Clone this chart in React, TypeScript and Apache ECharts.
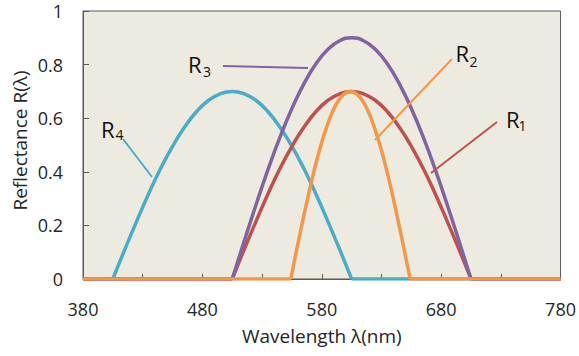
import React, { useEffect, useRef } from 'react';
import * as echarts from 'echarts';

const X_MIN = 380;
const X_MAX = 780;
const X_TICK_STEP = 50;
const X_LABEL_STEP = 100;
const Y_MIN = 0;
const Y_MAX = 1;
const Y_STEP = 0.2;

const xAxisTitle = 'Wavelength λ(nm)';
const yAxisTitle = 'Reflectance R(λ)';

// R4 (cyan)
const wavelengthsR4 = [405, 415, 425, 435, 445, 455, 465, 475, 485, 495, 505, 515, 525, 535, 545, 555, 565, 575, 585, 595, 605];
const reflectanceR4 = [0, 0.11, 0.216, 0.318, 0.412, 0.495, 0.566, 0.624, 0.666, 0.691, 0.7, 0.691, 0.666, 0.624, 0.566, 0.495, 0.412, 0.318, 0.216, 0.11, 0];

// R1 (red)
const wavelengthsR1 = [505, 515, 525, 535, 545, 555, 565, 575, 585, 595, 605, 615, 625, 635, 645, 655, 665, 675, 685, 695, 705];
const reflectanceR1 = [0, 0.11, 0.216, 0.318, 0.412, 0.495, 0.566, 0.624, 0.666, 0.691, 0.7, 0.691, 0.666, 0.624, 0.566, 0.495, 0.412, 0.318, 0.216, 0.11, 0];

// R3 (purple)
const wavelengthsR3 = [505, 515, 525, 535, 545, 555, 565, 575, 585, 595, 605, 615, 625, 635, 645, 655, 665, 675, 685, 695, 705];
const reflectanceR3 = [0, 0.141, 0.278, 0.409, 0.529, 0.636, 0.728, 0.802, 0.856, 0.889, 0.9, 0.889, 0.856, 0.802, 0.728, 0.636, 0.529, 0.409, 0.278, 0.141, 0];

// R2 (orange)
const wavelengthsR2 = [554, 559, 564, 569, 574, 579, 584, 589, 594, 599, 604, 609, 614, 619, 624, 629, 634, 639, 644, 649, 654];
const reflectanceR2 = [0, 0.11, 0.216, 0.318, 0.412, 0.495, 0.566, 0.624, 0.666, 0.691, 0.7, 0.691, 0.666, 0.624, 0.566, 0.495, 0.412, 0.318, 0.216, 0.11, 0];

const seriesNames = ['R4', 'R1', 'R3', 'R2'];
const seriesColors = ['#4BACC6', '#C0504D', '#8064A2', '#F79646'];

const FONT = "'Open Sans', 'Noto Sans', sans-serif";
const TEXT = '#262626';
const AXIS = '#595959';

function buildData(wl: number[], vals: number[]) {
  const first = wl[0];
  const last = wl[wl.length - 1];
  return [
    [X_MIN, 0],
    [first, 0],
    [first, '-'],
    ...wl.map((x, i) => [x, vals[i]]),
    [last, '-'],
    [last, 0],
    [X_MAX, 0],
  ];
}

export default function App() {
  const ref = useRef<HTMLDivElement>(null);

  useEffect(() => {
    if (!ref.current) return;
    const chart = echarts.init(ref.current, undefined, { renderer: 'svg' });

    const datasets = [
      buildData(wavelengthsR4, reflectanceR4),
      buildData(wavelengthsR1, reflectanceR1),
      buildData(wavelengthsR3, reflectanceR3),
      buildData(wavelengthsR2, reflectanceR2),
    ];

    const label = (sym: string, sub: string, x: number, y: number, sx: number, sy: number) => [
      {
        type: 'text',
        x,
        y,
        style: { text: sym, fontSize: 22, fontFamily: FONT, fill: '#111', align: 'left', verticalAlign: 'middle', textAlign: 'left', textVerticalAlign: 'middle' },
      },
      {
        type: 'text',
        x: sx,
        y: sy,
        style: { text: sub, fontSize: 14, fontFamily: FONT, fill: '#111', align: 'left', verticalAlign: 'middle', textAlign: 'left', textVerticalAlign: 'middle' },
      },
    ];

    const leader = (x1: number, y1: number, x2: number, y2: number, color: string) => ({
      type: 'line',
      shape: { x1, y1, x2, y2 },
      style: { stroke: color, lineWidth: 2 },
      z: 10,
    });

    chart.setOption({
      animation: false,
      backgroundColor: '#ffffff',
      grid: {
        left: 83,
        right: 17,
        top: 11,
        bottom: 77,
        show: true,
        backgroundColor: '#EDEBE0',
        borderColor: AXIS,
        borderWidth: 1,
      },
      xAxis: {
        type: 'value',
        min: X_MIN,
        max: X_MAX,
        interval: X_TICK_STEP,
        name: xAxisTitle,
        nameLocation: 'middle',
        nameGap: 47,
        nameTextStyle: { fontSize: 19, fontFamily: FONT, color: TEXT },
        axisLine: { show: true, lineStyle: { color: AXIS, width: 1 } },
        axisTick: { show: true, inside: true, length: 5, lineStyle: { color: AXIS } },
        axisLabel: {
          margin: 21,
          fontSize: 18,
          fontFamily: FONT,
          color: TEXT,
          formatter: (v: number) => ((v - X_MIN) % X_LABEL_STEP === 0 ? String(v) : ''),
        },
        splitLine: { show: false },
      },
      yAxis: {
        type: 'value',
        min: Y_MIN,
        max: Y_MAX,
        interval: Y_STEP,
        axisLine: { show: true, lineStyle: { color: AXIS, width: 1 } },
        axisTick: { show: true, inside: true, length: 6, lineStyle: { color: AXIS } },
        axisLabel: { margin: 20, fontSize: 18, fontFamily: FONT, color: TEXT },
        splitLine: { show: false },
      },
      series: datasets.map((data, i) => ({
        name: seriesNames[i],
        type: 'line',
        data,
        smooth: 0.5,
        connectNulls: false,
        symbol: 'none',
        lineStyle: { color: seriesColors[i], width: 3.5 },
        itemStyle: { color: seriesColors[i] },
        z: 2 + i,
      })),
      graphic: [
        leader(223, 66, 308, 68, '#8064A2'),
        leader(123, 139, 152, 177, '#4BACC6'),
        leader(452, 59, 375, 140, '#F79646'),
        leader(497, 122, 431, 173, '#C0504D'),
        ...label('R', '3', 188, 63.5, 203, 71.5),
        ...label('R', '4', 101, 128.7, 115.5, 134),
        ...label('R', '2', 455.5, 53.3, 469.5, 61.7),
        ...label('R', '1', 506, 118.7, 518.5, 125.4),
        {
          type: 'text',
          x: 20,
          y: 140.5,
          rotation: Math.PI / 2,
          style: {
            text: yAxisTitle,
            fontSize: 19,
            fontFamily: FONT,
            fill: TEXT,
            align: 'center',
            verticalAlign: 'middle',
            textAlign: 'center',
            textVerticalAlign: 'middle',
          },
        },
      ],
    });

    return () => chart.dispose();
  }, []);

  return (
    <div
      ref={ref}
      style={{ position: 'fixed', left: 0, top: 0, width: 579, height: 356, background: '#fff' }}
    />
  );
}
